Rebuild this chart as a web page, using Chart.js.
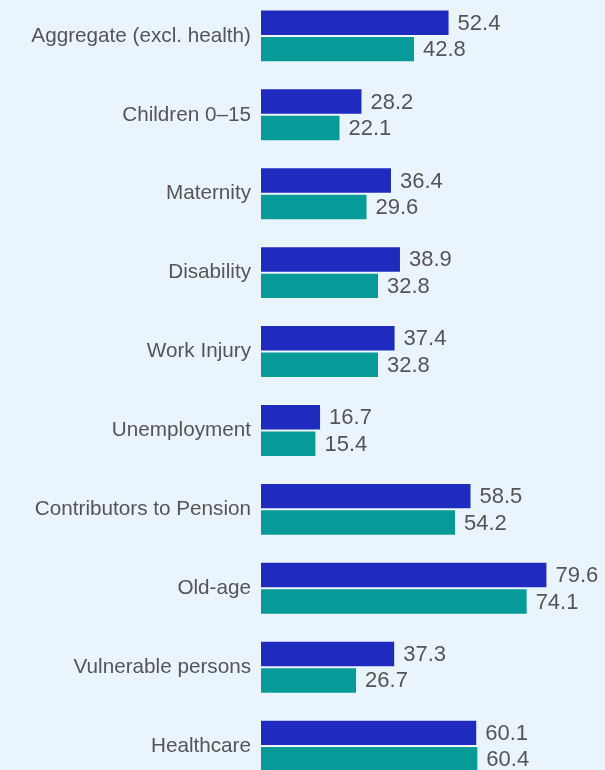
<!DOCTYPE html>
<html>
<head>
<meta charset="utf-8">
<script src="https://cdn.jsdelivr.net/npm/chart.js@4"></script>
<style>
  html, body { margin: 0; padding: 0; background: #eaf4fd; overflow: hidden; }
  #chart { position: absolute; left: 0; top: -26px; }
</style>
</head>
<body>
<canvas id="chart" width="605" height="834"></canvas>
<script>
// --- DATA ---
const categories = [
    'Aggregate (excl. health)', 'Children 0\u201315', 'Maternity', 'Disability', 'Work Injury',
    'Unemployment', 'Contributors to Pension', 'Old-age', 'Vulnerable persons', 'Healthcare'
];
const seriesA = [52.4, 28.2, 36.4, 38.9, 37.4, 16.7, 58.5, 79.6, 37.3, 60.1];
const seriesB = [42.8, 22.1, 29.6, 32.8, 32.8, 15.4, 54.2, 74.1, 26.7, 60.4];

const FONT = '"Liberation Sans", Arial, sans-serif';

// draws the number to the right of each bar
const valueLabels = {
    id: 'valueLabels',
    afterDatasetsDraw(chart) {
        const ctx = chart.ctx;
        ctx.save();
        ctx.font = '22px ' + FONT;
        ctx.fillStyle = '#555555';
        ctx.textAlign = 'left';
        ctx.textBaseline = 'middle';
        chart.data.datasets.forEach((ds, i) => {
            chart.getDatasetMeta(i).data.forEach((bar, j) => {
                ctx.fillText(ds.data[j].toFixed(1), bar.x + 8, bar.y + 1);
            });
        });
        ctx.restore();
    }
};

new Chart(document.getElementById('chart'), {
    type: 'bar',
    data: {
        labels: categories,
        datasets: [
            { label: 'A', data: seriesA, backgroundColor: '#1f2bbe', borderColor: 'rgba(255,255,255,0.35)', borderWidth: 1 },
            { label: 'B', data: seriesB, backgroundColor: '#069b98', borderColor: 'rgba(255,255,255,0.35)', borderWidth: 1 }
        ]
    },
    options: {
        indexAxis: 'y',
        responsive: false,
        animation: false,
        layout: { padding: 0 },
        datasets: { bar: { categoryPercentage: 0.67, barPercentage: 1 } },
        plugins: { legend: { display: false }, tooltip: { enabled: false } },
        scales: {
            x: { display: false, min: 0, max: 95.6 },
            y: {
                grid: { display: false, drawTicks: false },
                border: { display: false },
                ticks: { color: '#555555', padding: 10, font: { size: 20.7, family: FONT } },
                afterFit(scale) { scale.width = 261; }
            }
        }
    },
    plugins: [valueLabels]
});
</script>
</body>
</html>
